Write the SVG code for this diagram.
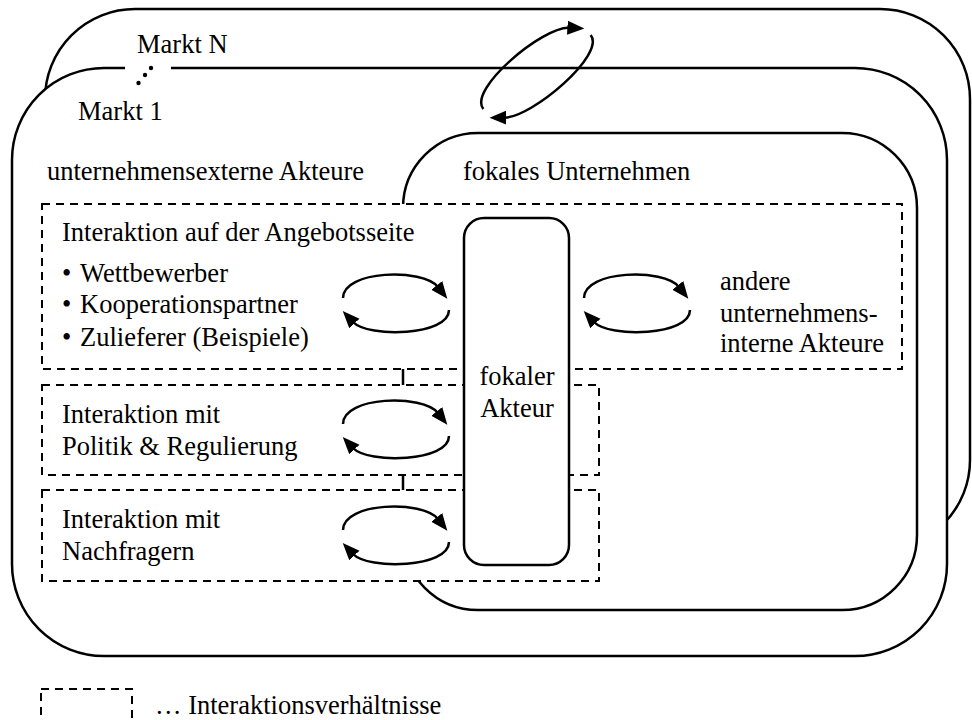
<svg xmlns="http://www.w3.org/2000/svg" width="972" height="720" viewBox="0 0 972 720">
  <defs>
    <style>
      .frame { fill: #fff; stroke: #000; stroke-width: 2.5; }
      .box { fill: #fff; stroke: #000; stroke-width: 2; stroke-dasharray: 8 6; }
      .actor { fill: #fff; stroke: #000; stroke-width: 2.5; }
      .loop { fill: none; stroke: #000; stroke-width: 2.5; marker-end: url(#head); }
      .lbl { font-size: 26.5px; fill: #000; font-family: "Liberation Serif", "Times New Roman", serif; }
    </style>
    <marker id="head" markerUnits="userSpaceOnUse" markerWidth="18" markerHeight="15" refX="2" refY="7" orient="auto">
      <path d="M0,0 L17,7 L0,14 z" fill="#000"/>
    </marker>
    <!-- a pair of opposed curved arrows around a horizontal ellipse -->
    <g id="loopPair">
      <path class="loop" d="M-53,-6 C-53,-34 27,-36 42,-17"/>
      <path class="loop" d="M53,6 C53,32 -28,34 -43,18"/>
    </g>
  </defs>

  <!-- market frames -->
  <g id="markt-n">
    <rect class="frame" x="45" y="9" width="925" height="541" rx="90" ry="90"/>
    <text class="lbl" x="137" y="53">Markt N</text>
  </g>
  <g id="markt-1">
    <rect class="frame" x="12" y="68" width="935" height="588" rx="92" ry="92"/>
    <rect x="125" y="62" width="46" height="12" fill="#fff"/>
    <circle cx="151" cy="68" r="2.2" fill="#000"/>
    <circle cx="145" cy="75" r="2.2" fill="#000"/>
    <circle cx="138.5" cy="83" r="2.2" fill="#000"/>
    <text class="lbl" x="78" y="120">Markt 1</text>
    <text class="lbl" x="47" y="180">unternehmensexterne Akteure</text>
  </g>
  <g id="fokales-unternehmen">
    <rect class="frame" x="403" y="133" width="514" height="477" rx="75" ry="75"/>
    <text class="lbl" x="463" y="180">fokales Unternehmen</text>
  </g>

  <!-- interaction areas -->
  <g id="angebotsseite">
    <rect class="box" x="42" y="204" width="860" height="165"/>
    <text class="lbl" x="62" y="241">Interaktion auf der Angebotsseite</text>
    <text class="lbl" x="62" y="282">•<tspan x="80">Wettbewerber</tspan></text>
    <text class="lbl" x="62" y="313">•<tspan x="80">Kooperationspartner</tspan></text>
    <text class="lbl" x="62" y="346">•<tspan x="80">Zulieferer (Beispiele)</tspan></text>
    <text class="lbl" x="720" y="290">andere</text>
    <text class="lbl" x="720" y="322">unternehmens-</text>
    <text class="lbl" x="720" y="352">interne Akteure</text>
  </g>
  <g id="politik">
    <rect class="box" x="42" y="385" width="557" height="90"/>
    <text class="lbl" x="62" y="423">Interaktion mit</text>
    <text class="lbl" x="62" y="455">Politik &amp; Regulierung</text>
  </g>
  <g id="nachfrager">
    <rect class="box" x="42" y="490" width="557" height="91"/>
    <text class="lbl" x="62" y="528">Interaktion mit</text>
    <text class="lbl" x="62" y="560">Nachfragern</text>
  </g>

  <!-- focal actor -->
  <g id="fokaler-akteur">
    <rect class="actor" x="464" y="218" width="105" height="347" rx="20" ry="20"/>
    <text class="lbl" x="517" y="385" text-anchor="middle">fokaler</text>
    <text class="lbl" x="517" y="417" text-anchor="middle">Akteur</text>
  </g>

  <!-- interaction loops -->
  <g id="connectors">
    <use href="#loopPair" transform="translate(396,304)"/>
    <use href="#loopPair" transform="translate(396,430)"/>
    <use href="#loopPair" transform="translate(396,536)"/>
    <use href="#loopPair" transform="translate(637,304)"/>
    <g transform="translate(537,72) rotate(-39)">
      <path class="loop" d="M-65,-5 C-65,-30 33,-32 53,-14"/>
      <path class="loop" d="M65,5 C65,30 -33,32 -54,15"/>
    </g>
  </g>

  <!-- legend -->
  <g id="legend">
    <rect class="box" x="41" y="689" width="91" height="34"/>
    <text class="lbl" x="155" y="714">… Interaktionsverhältnisse</text>
  </g>
</svg>
